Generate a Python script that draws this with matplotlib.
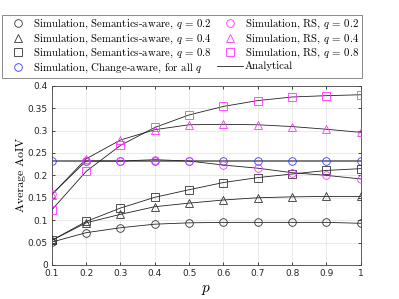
import matplotlib
matplotlib.use('Agg')
import matplotlib.pyplot as plt
from matplotlib.lines import Line2D
from matplotlib.ticker import FormatStrFormatter

plt.rcParams['mathtext.fontset'] = 'cm'
plt.rcParams['axes.formatter.use_mathtext'] = True

p = [0.1, 0.2, 0.3, 0.4, 0.5, 0.6, 0.7, 0.8, 0.9, 1.0]

# Semantics-aware simulation
sa_q02 = [0.051, 0.072, 0.083, 0.091, 0.094, 0.095, 0.095, 0.095, 0.095, 0.093]
sa_q04 = [0.055, 0.094, 0.113, 0.130, 0.138, 0.145, 0.150, 0.152, 0.153, 0.153]
sa_q08 = [0.055, 0.097, 0.127, 0.151, 0.168, 0.184, 0.195, 0.203, 0.211, 0.215]

# Randomized stationary simulation
rs_q02 = [0.158, 0.232, 0.232, 0.235, 0.232, 0.223, 0.216, 0.206, 0.200, 0.192]
rs_q04 = [0.157, 0.237, 0.279, 0.302, 0.313, 0.314, 0.313, 0.309, 0.303, 0.296]
rs_q08 = [0.123, 0.209, 0.267, 0.307, 0.335, 0.354, 0.367, 0.375, 0.378, 0.380]

# Change-aware simulation (same for all q)
ca = [0.231] * 10

fig = plt.figure(figsize=(3.99, 2.99), dpi=100)
ax = fig.add_axes([0.130, 0.114, 0.774, 0.599])

# analytical curves
ax.plot(p, ca, color='#666666', lw=1.2, zorder=2)
for vals in [sa_q02, sa_q04, sa_q08, rs_q02, rs_q04, rs_q08]:
    ax.plot(p, vals, color='#222222', lw=0.6, zorder=2)

mk = dict(ls='none', fillstyle='none', markersize=5.5, markeredgewidth=0.6, zorder=3)
ax.plot(p, ca, marker='o', color='#3a3aff', **mk)
ax.plot(p, sa_q02, marker='o', color='#333333', **mk)
ax.plot(p, sa_q04, marker='^', color='#333333', **mk)
ax.plot(p, sa_q08, marker='s', color='#333333', **mk)
ax.plot(p, rs_q02, marker='o', color='#ff33ff', **mk)
ax.plot(p, rs_q04, marker='^', color='#ff33ff', **mk)
ax.plot(p, rs_q08, marker='s', color='#ff33ff', **mk)

ax.set_xlim(0.1, 1.0)
ax.set_ylim(0, 0.4)
ax.set_xticks(p)
ax.set_yticks([0, 0.05, 0.1, 0.15, 0.2, 0.25, 0.3, 0.35, 0.4])
ax.xaxis.set_major_formatter(FormatStrFormatter('%g'))
ax.yaxis.set_major_formatter(FormatStrFormatter('%g'))
ax.tick_params(direction='in', length=2.5, width=0.5, labelsize=6.5,
               top=True, right=True, pad=3, labelcolor='#262626')
for lab in ax.get_xticklabels() + ax.get_yticklabels():
    lab.set_family('DejaVu Sans')
ax.grid(True, color='#e6e6e6', lw=0.6)
ax.set_axisbelow(True)
for s in ax.spines.values():
    s.set_linewidth(0.6)
    s.set_color('#444444')

ax.set_xlabel('$p$', fontsize=11, labelpad=3)
ax.set_ylabel('Average AoIV', family='cmr10', fontsize=8.5, labelpad=1)

lk = dict(ls='none', fillstyle='none', markersize=5.5, markeredgewidth=0.6)
handles = [
    Line2D([], [], marker='o', color='#333333', **lk),
    Line2D([], [], marker='^', color='#333333', **lk),
    Line2D([], [], marker='s', color='#333333', **lk),
    Line2D([], [], marker='o', color='#3a3aff', **lk),
    Line2D([], [], marker='o', color='#ff33ff', **lk),
    Line2D([], [], marker='^', color='#ff33ff', **lk),
    Line2D([], [], marker='s', color='#ff33ff', **lk),
    Line2D([], [], color='#222222', lw=0.6),
]
labels = [
    'Simulation, Semantics-aware, $q$ = 0.2',
    'Simulation, Semantics-aware, $q$ = 0.4',
    'Simulation, Semantics-aware, $q$ = 0.8',
    'Simulation, Change-aware, for all $q$',
    'Simulation, RS, $q$ = 0.2',
    'Simulation, RS, $q$ = 0.4',
    'Simulation, RS, $q$ = 0.8',
    'Analytical',
]
leg = fig.legend(handles, labels, ncol=2, loc='upper left',
                 bbox_to_anchor=(0.005, 0.95),
                 prop={'family': 'cmr10', 'size': 7.8}, frameon=True,
                 fancybox=False, edgecolor='#555555', handlelength=2.45,
                 handletextpad=0.15, labelspacing=0.12, borderpad=0.25,
                 columnspacing=0.45, borderaxespad=0)
leg.get_frame().set_linewidth(0.6)

fig.savefig('out.png', dpi=100)
